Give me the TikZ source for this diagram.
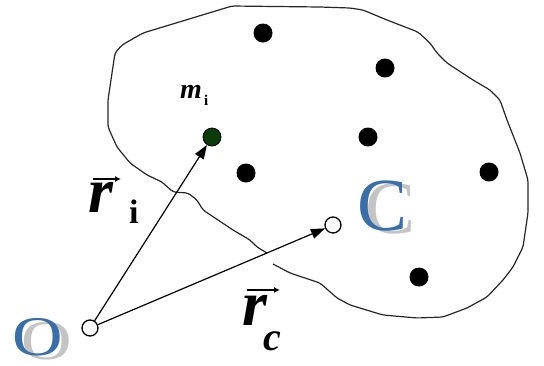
\documentclass[tikz,border=0pt]{standalone}
\usepackage{fontspec}
\setmainfont{Liberation Serif}
\usetikzlibrary{arrows.meta}
\definecolor{cblue}{HTML}{3A6EA8}
\definecolor{cshadow}{HTML}{C4C4C4}
\definecolor{mgreen}{HTML}{0B3B0B}
\begin{document}
\begin{tikzpicture}[x=1pt,y=-1pt,
  dot/.style={circle,fill=black,inner sep=0pt,minimum size=19pt},
  mdot/.style={circle,fill=mgreen,draw=black,line width=0.8pt,inner sep=0pt,minimum size=18pt},
  opendot/.style={circle,draw=black,fill=white,line width=1.3pt,inner sep=0pt,minimum size=16pt},
  vecline/.style={-{Triangle[length=14pt,width=10pt]},line width=1.2pt},
  outline/.style={line width=1.2pt,draw=black!85,line join=round,rounded corners=3pt},
  lbl/.style={inner sep=0pt,anchor=base west},
  bigr/.style={lbl,font=\fontsize{64}{64}\selectfont\bfseries\itshape},
  overarrow/.style={line width=1.6pt,-{Latex[length=6pt,width=6pt]}},
  bigletter/.style={lbl,font=\fontsize{75}{75}\selectfont}
]
\useasboundingbox (0,0) rectangle (544,365);
% outline of the body
\draw[outline] (273,264) -- (290,273) -- (320,283) -- (337,298) -- (350,305) -- (383,315)
  -- (417,318) -- (443,317) -- (467,308) -- (487,297) -- (503,280) -- (513,267)
  -- (523,247) -- (528,213) -- (528,180) -- (520,153) -- (507,120) -- (500,100)
  -- (490,90) -- (473,80) -- (447,63) -- (437,53) -- (430,43) -- (418,32)
  -- (387,20) -- (363,10) -- (350,8) -- (320,7) -- (232,6) -- (143,33) -- (122,45)
  -- (115,53) -- (108,100) -- (108,127) -- (117,147) -- (130,163) -- (147,175)
  -- (162,182) -- (173,192) -- (188,193) -- (197,200) -- (203,210) -- (218,220)
  -- (233,230) -- (250,240) -- (257,247) -- (267,253);
% point masses
\node[dot] (d1) at (263,33) {};
\node[dot] (d2) at (385,68) {};
\node[dot] (d3) at (368,137) {};
\node[dot] (d4) at (489,172) {};
\node[dot] (d5) at (246,173) {};
\node[dot] (d6) at (419,277) {};
\node[mdot] (mdot) at (212,137) {};
\node[opendot] (o) at (90,328) {};
\node[opendot] (c) at (333,225) {};
\draw[vecline] (o) -- (mdot);
\draw[vecline] (o) -- (c);
% labels
\node[lbl,font=\fontsize{28}{28}\selectfont\bfseries\itshape] (m) at (180,98) {m};
\node[lbl,font=\fontsize{15}{15}\selectfont\bfseries] (mi) at (204,105) {i};
\node[bigr] (ri) at (88,212) {r};
\node[lbl,font=\fontsize{34}{34}\selectfont\bfseries] (ii) at (129,223) {i};
\draw[overarrow] (93,179) -- (121,179);
\node[bigr] (rc) at (242,325) {r};
\node[lbl,font=\fontsize{40}{40}\selectfont\bfseries\itshape] (cc) at (263,350) {c};
\draw[overarrow] (247,290) -- (280,290);
\node[bigletter,text=cshadow] (Cs) at (365,233) {C};
\node[bigletter,text=cblue] (C) at (357,230) {C};
\node[lbl,text=cshadow,font=\fontsize{56}{56}\selectfont] (Os) at (21,359) {\scalebox{1.25}[1]{O}};
\node[lbl,text=cblue,font=\fontsize{56}{56}\selectfont] (O) at (12,355) {\scalebox{1.25}[1]{O}};
\end{tikzpicture}
\end{document}
